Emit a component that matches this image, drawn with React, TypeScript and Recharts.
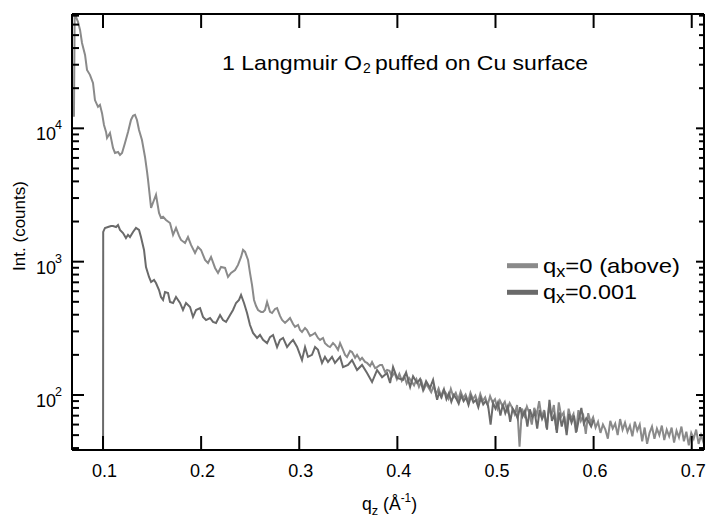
import { LineChart, Line, XAxis, YAxis, Legend, Customized } from "recharts";

const FONT = '"Liberation Sans", Arial, Helvetica, sans-serif';

const qTicks = [0.1, 0.2, 0.3, 0.4, 0.5, 0.6, 0.7];
const decadeTicks = [100, 1000, 10000];
const decadeExp = ["2", "3", "4"];
const minorTicks = [
  40, 50, 60, 70, 80, 90, 200, 300, 400, 500, 600, 700, 800, 900, 2000, 3000,
  4000, 5000, 6000, 7000, 8000, 9000, 20000, 30000, 40000, 50000, 60000, 70000,
];

const seriesNames = ["q_x=0 (above)", "q_x=0.001"];
const legendParts = [
  ["q", "x", "=0 (above)"],
  ["q", "x", "=0.001"],
];
const seriesColors = ["#8a8a8a", "#6a6a6a"];

// q_z, counts  (q_x = 0, above)
const aboveData: [number, number][] = [
  [0.0704, 12200], [0.0712, 90000], [0.0725, 68500], [0.0745, 62900], [0.0766, 54700],
  [0.0786, 43700], [0.0817, 35500], [0.0837, 27400], [0.0867, 25200], [0.0898, 21900],
  [0.0918, 16300], [0.0949, 14500], [0.0969, 15000], [0.099, 13000], [0.101, 10600],
  [0.1031, 9400], [0.1041, 8470], [0.1071, 9240], [0.1102, 7130], [0.1122, 6540],
  [0.1153, 6650], [0.1173, 6320], [0.1194, 6540], [0.1224, 7770], [0.1255, 9400],
  [0.1285, 11560], [0.1306, 12400], [0.1326, 12600], [0.1346, 11560], [0.1367, 9730],
  [0.1397, 8180], [0.1428, 6100], [0.1449, 4710], [0.1459, 4100], [0.149, 2530],
  [0.152, 2900], [0.154, 3170], [0.1571, 2320], [0.1591, 2130], [0.1612, 2170],
  [0.1642, 2055], [0.1683, 1950], [0.1714, 1590], [0.1744, 1790], [0.1775, 1560],
  [0.1795, 1455], [0.1836, 1380], [0.1866, 1530], [0.1897, 1335], [0.1938, 1162],
  [0.1968, 1290], [0.1999, 1224], [0.204, 1030], [0.207, 978], [0.2101, 1085],
  [0.2142, 897], [0.2172, 823], [0.2203, 912], [0.2244, 897], [0.2274, 768],
  [0.2305, 823], [0.2346, 866], [0.2376, 945], [0.2407, 1085], [0.2427, 1224],
  [0.2448, 1183], [0.2478, 1030], [0.2498, 823], [0.2519, 668], [0.2539, 516],
  [0.256, 465], [0.258, 434], [0.2611, 420], [0.2631, 420], [0.2651, 434],
  [0.2672, 498], [0.2702, 420], [0.2723, 412], [0.2753, 442], [0.2774, 449],
  [0.2804, 392], [0.2825, 365], [0.2855, 347], [0.2886, 365], [0.2906, 378],
  [0.2937, 341], [0.2957, 324], [0.2988, 335], [0.3008, 307], [0.3028, 297],
  [0.3059, 318], [0.3079, 307], [0.311, 277], [0.313, 282], [0.3161, 292],
  [0.3191, 268], [0.3212, 259], [0.3242, 268], [0.3262, 245], [0.3293, 233],
  [0.3313, 229], [0.3344, 245], [0.3364, 237], [0.3395, 218], [0.3416, 245],
  [0.3446, 218], [0.3467, 200], [0.3487, 193], [0.3518, 214], [0.3538, 210],
  [0.3569, 190], [0.3589, 200], [0.362, 183], [0.364, 190], [0.3671, 177],
  [0.3691, 174], [0.3722, 165], [0.3742, 177], [0.3773, 159], [0.3793, 162],
  [0.3824, 168], [0.3844, 168], [0.3875, 149], [0.3895, 154],
  [0.392, 152], [0.3945, 138], [0.397, 147], [0.3995, 131], [0.402, 144],
  [0.4045, 128], [0.407, 139], [0.4095, 122], [0.412, 134], [0.4145, 126],
  [0.417, 118], [0.4195, 131], [0.422, 115], [0.4245, 127], [0.427, 110],
  [0.4295, 121], [0.432, 113], [0.4345, 105], [0.437, 117], [0.4395, 101],
  [0.442, 112], [0.4445, 98], [0.447, 109], [0.4495, 103], [0.452, 94],
  [0.4545, 111], [0.457, 97], [0.4595, 104], [0.462, 92], [0.4645, 106],
  [0.467, 95], [0.4695, 101], [0.472, 89], [0.4745, 104], [0.477, 93],
  [0.4795, 99], [0.482, 87], [0.4845, 102], [0.487, 90], [0.4895, 96],
  [0.492, 84], [0.4945, 98], [0.497, 88], [0.4995, 93], [0.502, 79],
  [0.5045, 91], [0.507, 83], [0.5095, 89], [0.512, 76], [0.5145, 87],
  [0.517, 80], [0.5195, 72], [0.522, 84], [0.5245, 41], [0.527, 79],
  [0.5295, 70], [0.532, 82], [0.5345, 73], [0.537, 60], [0.5395, 80],
  [0.542, 71], [0.5445, 90], [0.547, 68], [0.5495, 77], [0.552, 57],
  [0.5545, 81], [0.557, 70], [0.5595, 84], [0.562, 55], [0.5645, 88],
  [0.567, 69], [0.5695, 74], [0.572, 54], [0.5745, 79], [0.577, 66],
  [0.5795, 72], [0.582, 52], [0.5845, 77], [0.587, 64], [0.5895, 70],
  [0.592, 51], [0.5945, 73], [0.597, 62], [0.5995, 68], [0.602, 57],
  [0.6045, 63], [0.607, 52], [0.6095, 60], [0.612, 55], [0.6145, 47],
  [0.617, 64], [0.6195, 56], [0.622, 61], [0.6245, 50], [0.627, 66],
  [0.6295, 55], [0.632, 62], [0.6345, 53], [0.637, 59], [0.6395, 49],
  [0.642, 63], [0.6445, 54], [0.647, 60], [0.6495, 45], [0.652, 57],
  [0.6545, 43], [0.657, 52], [0.6595, 58], [0.662, 47], [0.6645, 56],
  [0.667, 50], [0.6695, 59], [0.672, 46], [0.6745, 55], [0.677, 49],
  [0.6795, 57], [0.682, 44], [0.6845, 54], [0.687, 48], [0.6895, 58],
  [0.692, 45], [0.6945, 53], [0.697, 42], [0.6995, 52], [0.702, 47],
  [0.7045, 55], [0.707, 43], [0.7095, 50], [0.712, 44], [0.7145, 48],
];

// q_z, counts  (q_x = 0.001)
const offData: [number, number][] = [
  [0.1, 5], [0.1002, 1670], [0.102, 1790], [0.1051, 1820], [0.1082, 1850],
  [0.1102, 1850], [0.1133, 1820], [0.1153, 1885], [0.1173, 1730], [0.1204, 1640],
  [0.1234, 1505], [0.1255, 1590], [0.1275, 1530], [0.1306, 1670], [0.1336, 1790],
  [0.1367, 1730], [0.1387, 1530], [0.1418, 1224], [0.1438, 912], [0.1469, 768],
  [0.149, 704], [0.152, 729], [0.154, 692], [0.1571, 613], [0.1591, 543],
  [0.1612, 516], [0.1632, 592], [0.1663, 582], [0.1683, 498], [0.1714, 490],
  [0.1744, 543], [0.1785, 490], [0.1815, 434], [0.1846, 490], [0.1887, 457],
  [0.1917, 385], [0.1948, 434], [0.1989, 449], [0.2019, 385], [0.205, 365],
  [0.2091, 378], [0.2121, 353], [0.2152, 347], [0.2193, 398], [0.2223, 365],
  [0.2254, 353], [0.2295, 398], [0.2325, 434], [0.2356, 490], [0.2386, 516],
  [0.2407, 563], [0.2437, 490], [0.2468, 412], [0.2498, 335], [0.2529, 292],
  [0.257, 268], [0.26, 282], [0.2631, 259], [0.2672, 245], [0.2702, 272],
  [0.2733, 282], [0.2774, 229], [0.2804, 259], [0.2835, 268], [0.2876, 229],
  [0.2906, 245], [0.2937, 259], [0.2978, 229], [0.3028, 183], [0.3059, 229],
  [0.3089, 193], [0.313, 200], [0.3161, 229], [0.3191, 218], [0.3232, 174],
  [0.3262, 193], [0.3293, 177], [0.3334, 193], [0.3364, 174], [0.3416, 193],
  [0.3446, 162], [0.3497, 168], [0.3538, 183], [0.3589, 154], [0.364, 168],
  [0.3691, 146], [0.3742, 125], [0.3793, 154], [0.3844, 136], [0.3895, 146],
  [0.3926, 123], [0.3956, 162], [0.3997, 134], [0.4058, 130], [0.4089, 148],
  [0.413, 115], [0.416, 138], [0.4201, 123], [0.4231, 132], [0.4262, 109],
  [0.4293, 127], [0.4333, 113], [0.4364, 130], [0.4405, 92],
  [0.4425, 104], [0.445, 96], [0.4475, 110], [0.45, 93], [0.4525, 103],
  [0.455, 89], [0.4575, 100], [0.46, 94], [0.4625, 86], [0.465, 99],
  [0.4675, 90], [0.47, 96], [0.4725, 84], [0.475, 98], [0.4775, 88],
  [0.48, 92], [0.4825, 81], [0.485, 95], [0.4875, 85], [0.49, 90],
  [0.4925, 83], [0.495, 60], [0.4975, 87], [0.5, 79], [0.5025, 88],
  [0.505, 70], [0.5075, 85], [0.51, 73], [0.5125, 82], [0.515, 63],
  [0.5175, 79], [0.52, 74], [0.5225, 67], [0.525, 81], [0.5275, 69],
  [0.53, 76], [0.5325, 58], [0.535, 78], [0.5375, 68], [0.54, 74],
  [0.5425, 56], [0.545, 77], [0.5475, 66], [0.55, 73], [0.5525, 55],
  [0.555, 92], [0.5575, 64], [0.56, 71], [0.5625, 52], [0.565, 74],
  [0.5675, 58], [0.57, 69], [0.5725, 50], [0.575, 72], [0.5775, 62],
  [0.58, 70], [0.5825, 53], [0.585, 66], [0.5875, 80], [0.59, 61],
  [0.5925, 67], [0.595, 63], [0.5975, 58], [0.6, 65],
];

const aboveRows = aboveData.map(([q, v]) => ({ q, v }));
const offRows = offData.map(([q, v]) => ({ q, v }));
const yTicks = [...minorTicks, ...decadeTicks].sort((a, b) => a - b);

const LeftTick = ({ x, y, payload }: any) => {
  const i = decadeTicks.indexOf(payload.value);
  const major = i >= 0;
  return (
    <g>
      <line x1={x} x2={x + (major ? 12 : 7)} y1={y} y2={y} stroke="#000" strokeWidth={2} />
      {major && (
        <g fontFamily={FONT} fill="#000">
          <text x={x - 16} y={y + 12} fontSize={18} textAnchor="end">10</text>
          <text x={x - 17} y={y + 1} fontSize={12.5}>{decadeExp[i]}</text>
        </g>
      )}
    </g>
  );
};

const RightTick = ({ x, y, payload }: any) => {
  const major = decadeTicks.includes(payload.value);
  return <line x1={x} x2={x - (major ? 8 : 5)} y1={y} y2={y} stroke="#000" strokeWidth={2} />;
};

const BottomTick = ({ x, y, payload }: any) => (
  <g>
    <line x1={x} x2={x} y1={y} y2={y - 14} stroke="#000" strokeWidth={2} />
    <text x={x + 1.5} y={y + 27} fontSize={18} fontFamily={FONT} textAnchor="middle" fill="#000">
      {String(payload.value)}
    </text>
  </g>
);

const TopTick = ({ x, y }: any) => (
  <line x1={x} x2={x} y1={y} y2={y + 14} stroke="#000" strokeWidth={2} />
);

const XLabel = () => (
  <text x={362} y={510} fontSize={18} fontFamily={FONT} fill="#000" textLength={55} lengthAdjust="spacingAndGlyphs">
    q<tspan fontSize={13} dy={5}>z</tspan>
    <tspan dy={-5}>{" (Å"}</tspan>
    <tspan fontSize={12} dy={-8}>-1</tspan>
    <tspan dy={8}>)</tspan>
  </text>
);

const YLabel = () => (
  <text
    x={25}
    y={226}
    transform="rotate(-90 25 226)"
    textAnchor="middle"
    fontSize={17}
    fontFamily={FONT}
    fill="#000"
  >
    Int. (counts)
  </text>
);

const Title = () => (
  <g fontFamily={FONT} fill="#000">
    <text x={222} y={70} fontSize={21} textLength={140} lengthAdjust="spacingAndGlyphs">
      1 Langmuir O
    </text>
    <text x={363} y={73} fontSize={14}>2</text>
    <text x={375} y={70} fontSize={21} textLength={213} lengthAdjust="spacingAndGlyphs">
      puffed on Cu surface
    </text>
  </g>
);

const LegendBox = () => (
  <svg width={200} height={60} style={{ display: "block" }}>
    {legendParts.map((parts, i) => (
      <g key={seriesNames[i]}>
        <line x1={7} x2={38} y1={15.7 + i * 26.6} y2={15.7 + i * 26.6} stroke={seriesColors[i]} strokeWidth={5} />
        <text
          x={43}
          y={23 + i * 26}
          fontSize={21}
          fontFamily={FONT}
          fill="#000"
          textLength={i === 0 ? 137 : 94}
          lengthAdjust="spacingAndGlyphs"
        >
          {parts[0]}
          <tspan fontSize={16} dy={4}>{parts[1]}</tspan>
          <tspan dy={-4}>{parts[2]}</tspan>
        </text>
      </g>
    ))}
  </svg>
);

export default function App() {
  return (
    <div style={{ position: "absolute", left: 0, top: 0, background: "#fff" }}>
      <LineChart width={707} height={517} margin={{ top: 0, right: 0, bottom: 0, left: 0 }}>
        <XAxis
          xAxisId="bottom"
          type="number"
          dataKey="q"
          domain={[0.0684, 0.7125]}
          allowDataOverflow
          ticks={qTicks}
          interval={0}
          height={67}
          tickSize={0}
          tickMargin={0}
          tickLine={false}
          tick={<BottomTick />}
          axisLine={{ stroke: "#000", strokeWidth: 2 }}
          label={XLabel}
        />
        <XAxis
          xAxisId="top"
          orientation="top"
          type="number"
          dataKey="q"
          domain={[0.0684, 0.7125]}
          allowDataOverflow
          ticks={qTicks}
          interval={0}
          height={14}
          tickSize={0}
          tickMargin={0}
          tickLine={false}
          tick={<TopTick />}
          axisLine={{ stroke: "#000", strokeWidth: 2 }}
        />
        <YAxis
          yAxisId="left"
          type="number"
          scale="log"
          domain={[38.68, 72030]}
          allowDataOverflow
          ticks={yTicks}
          interval={0}
          width={72}
          tickSize={0}
          tickMargin={0}
          tickLine={false}
          tick={<LeftTick />}
          axisLine={{ stroke: "#000", strokeWidth: 2 }}
          label={YLabel}
        />
        <YAxis
          yAxisId="right"
          orientation="right"
          type="number"
          scale="log"
          domain={[38.68, 72030]}
          allowDataOverflow
          ticks={yTicks}
          interval={0}
          width={3}
          tickSize={0}
          tickMargin={0}
          tickLine={false}
          tick={<RightTick />}
          axisLine={{ stroke: "#000", strokeWidth: 2 }}
        />
        <Line
          xAxisId="bottom"
          yAxisId="left"
          data={aboveRows}
          dataKey="v"
          name={seriesNames[0]}
          type="linear"
          stroke={seriesColors[0]}
          strokeWidth={2}
          dot={false}
          isAnimationActive={false}
        />
        <Line
          xAxisId="top"
          yAxisId="right"
          data={offRows}
          dataKey="v"
          name={seriesNames[1]}
          type="linear"
          stroke={seriesColors[1]}
          strokeWidth={2}
          dot={false}
          isAnimationActive={false}
        />
        <Legend
          layout="vertical"
          align="center"
          verticalAlign="middle"
          wrapperStyle={{ left: 500, top: 250, width: 200, height: 60 }}
          content={() => <LegendBox />}
        />
        <Customized component={<Title />} />
      </LineChart>
    </div>
  );
}
